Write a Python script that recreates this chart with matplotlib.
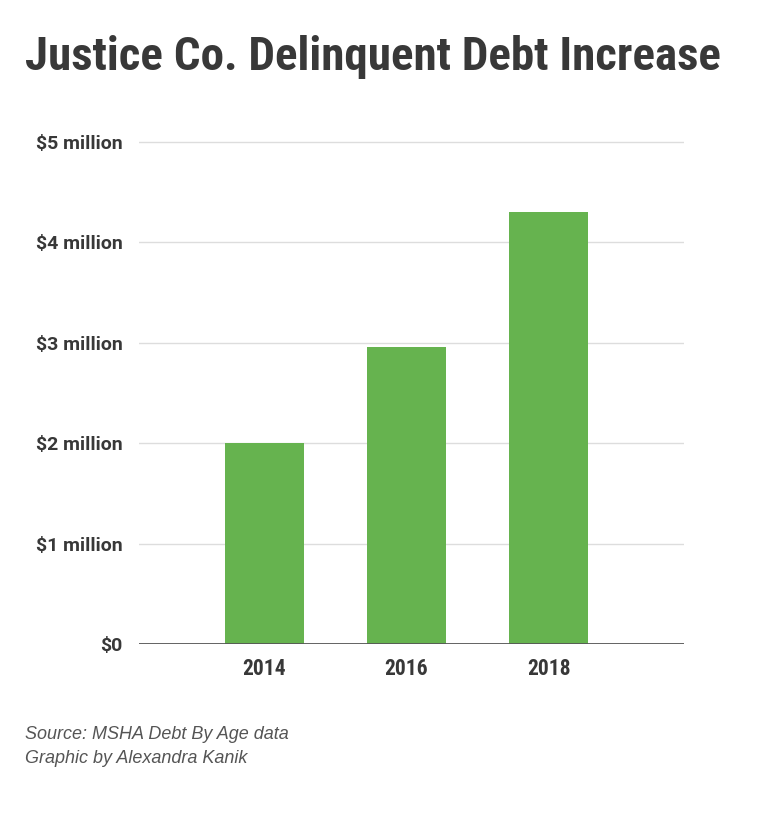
import matplotlib.pyplot as plt
import numpy as np
from matplotlib import font_manager

# datos
anios = ["2014", "2016", "2018"]
deuda_millones = [2.0, 2.96, 4.30]
ticks_y = [0, 1, 2, 3, 4, 5]
etiquetas_y = ["$0", "$1 million", "$2 million", "$3 million", "$4 million", "$5 million"]

# buscar una fuente condensada si existe
disponibles = {f.name for f in font_manager.fontManager.ttflist}
condensada = "DejaVu Sans"
for nombre in ["Roboto Condensed", "Liberation Sans Narrow", "Open Sans Condensed", "DejaVu Sans Condensed"]:
    if nombre in disponibles:
        condensada = nombre
        break

verde = "#66b34f"
texto = "#383838"

fig = plt.figure(figsize=(7.68, 8.17), dpi=100)
ax = fig.add_axes([0.181, 0.2118, 0.7096, 0.639])

x = np.arange(len(anios))
ax.bar(x, deuda_millones, width=0.556, color=verde, zorder=2)

ax.set_xlim(-0.884, 2.954)
ax.set_ylim(0, 5.2)
ax.set_yticks(ticks_y)
ax.set_yticklabels(etiquetas_y)
ax.set_xticks(x)
ax.set_xticklabels(anios)

ax.grid(axis="y", color="#dddddd", linewidth=1, zorder=0)
ax.axhline(0, color="#555555", linewidth=2, zorder=3)
for s in ax.spines.values():
    s.set_visible(False)
ax.tick_params(axis="both", length=0)
ax.tick_params(axis="y", pad=12)
ax.tick_params(axis="x", pad=10)
for lab in ax.get_yticklabels():
    lab.set_fontfamily("Roboto")
    lab.set_fontweight("bold")
    lab.set_fontsize(14)
    lab.set_color(texto)
for lab in ax.get_xticklabels():
    lab.set_fontfamily(condensada)
    lab.set_fontweight("bold")
    lab.set_fontsize(15.5)
    lab.set_color(texto)

fig.text(25 / 768, 1 - 70 / 817, "Justice Co. Delinquent Debt Increase",
         fontfamily=condensada, fontweight="bold", fontsize=33.8, color=texto, va="baseline")

fig.text(25 / 768, 1 - 739 / 817, "Source: MSHA Debt By Age data",
         fontfamily="Liberation Sans", style="italic", fontsize=13, color="#555555", va="baseline")
fig.text(25 / 768, 1 - 763 / 817, "Graphic by Alexandra Kanik",
         fontfamily="Liberation Sans", style="italic", fontsize=13, color="#555555", va="baseline")

fig.savefig("out.png", dpi=100)
